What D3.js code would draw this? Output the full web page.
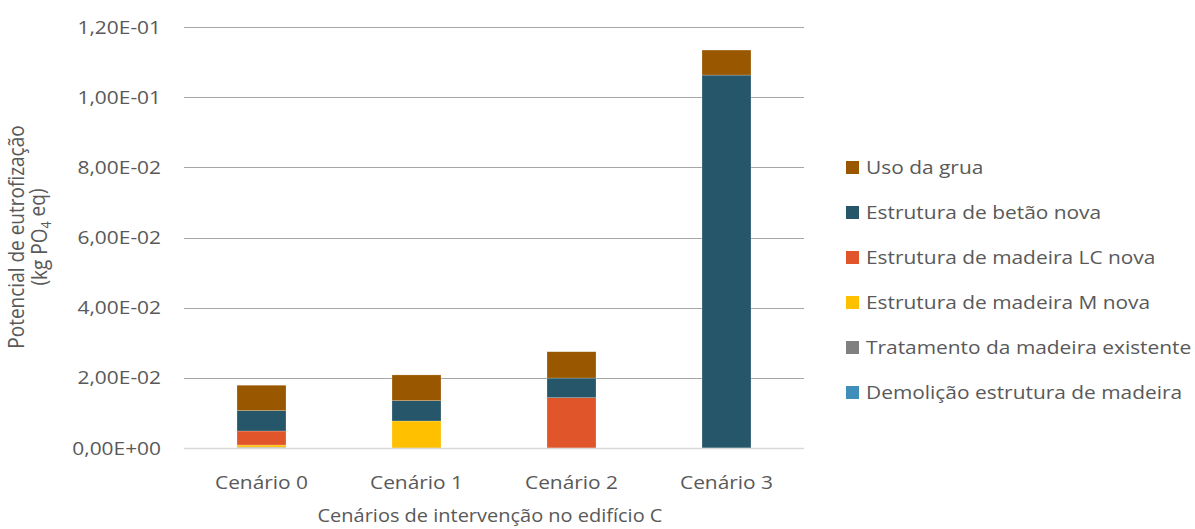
<!DOCTYPE html>
<html><head><meta charset="utf-8">
<script src="https://cdn.jsdelivr.net/npm/d3@7"></script>
<style>body{margin:0;background:#fff}svg{display:block}text{font-family:"Open Sans",sans-serif;fill:#595959;font-size:19px}</style>
</head><body><svg id="c" width="1195" height="529"></svg>
<script>
const categories = ["Cenário 0","Cenário 1","Cenário 2","Cenário 3"];
const seriesNames = ["Demolição estrutura de madeira","Tratamento da madeira existente","Estrutura de madeira M nova","Estrutura de madeira LC nova","Estrutura de betão nova","Uso da grua"];
const seriesColors = ["#3F8FBA","#808080","#FFC000","#E05529","#255669","#995800"];
const demolicao  = [0.00005, 0, 0, 0];
const tratamento = [0.0002, 0, 0, 0];
const madeiraM   = [0.0006, 0.0077, 0, 0];
const madeiraLC  = [0.0040, 0, 0.01434, 0];
const betao      = [0.0058, 0.0058, 0.0056, 0.1063];
const grua       = [0.00724, 0.00733, 0.0075, 0.00713];
const yTicks = [0, 0.02, 0.04, 0.06, 0.08, 0.10, 0.12];

const SX = 1.1; // horizontal text stretch seen in the reference

const seriesValues = [demolicao, tratamento, madeiraM, madeiraLC, betao, grua];
const rows = categories.map((c,i)=>{const r={cat:c}; seriesNames.forEach((s,j)=>r[s]=seriesValues[j][i]); return r;});
const stack = d3.stack().keys(seriesNames)(rows);

const svg = d3.select("#c");
const x = d3.scaleBand().domain(categories).range([184,804]).paddingInner(0.684).paddingOuter(0.342);
const y = d3.scaleLinear().domain([0,0.12]).range([448,27]);

function fmt(v){
  if (v===0) return "0,00E+00";
  const e = Math.floor(Math.log10(v)+1e-9);
  const m = v/Math.pow(10,e);
  const es = (e<0?"-":"+") + String(Math.abs(e)).padStart(2,"0");
  return m.toFixed(2).replace(".",",")+"E"+es;
}

// gridlines
svg.append("g").selectAll("line").data(yTicks.slice(1)).join("line")
  .attr("x1",184).attr("x2",804).attr("y1",d=>Math.round(y(d))+0.5).attr("y2",d=>Math.round(y(d))+0.5)
  .attr("stroke","#a6a6a6").attr("stroke-width",1);

// y tick labels
svg.append("g").selectAll("text").data(yTicks).join("text")
  .attr("transform",d=>`translate(161,${y(d)}) scale(${SX},1)`)
  .attr("dy","0.35em").attr("text-anchor","end").text(fmt);

// bars
svg.append("g").selectAll("g").data(stack).join("g")
  .attr("fill",(d,i)=>seriesColors[i])
  .selectAll("rect").data(d=>d).join("rect")
  .attr("x",d=>x(d.data.cat)).attr("width",x.bandwidth())
  .attr("y",d=>y(d[1])).attr("height",d=>Math.max(0,y(d[0])-y(d[1])))
  .attr("stroke","#ffffff").attr("stroke-opacity",0.35).attr("stroke-width",0.6);

// x axis line
svg.append("line").attr("x1",184).attr("x2",804).attr("y1",448.5).attr("y2",448.5)
  .attr("stroke","#d9d9d9").attr("stroke-width",1.5);

// x labels
svg.append("g").selectAll("text").data(categories).join("text")
  .attr("transform",d=>`translate(${x(d)+x.bandwidth()/2},482) scale(${SX},1)`)
  .attr("dy","0.35em").attr("text-anchor","middle").text(d=>d);

svg.append("text").attr("transform",`translate(490,516) scale(1.08,1)`)
  .attr("dy","0.35em").attr("text-anchor","middle").style("font-size","18.5px")
  .text("Cenários de intervenção no edifício C");

// y title
svg.append("text").attr("transform",`translate(17,237) scale(${SX},1) rotate(-90)`)
  .attr("text-anchor","middle").attr("dy","0.35em").text("Potencial de eutrofização");
const l2 = svg.append("text").attr("transform",`translate(40,237) scale(${SX},1) rotate(-90)`).attr("text-anchor","middle");
l2.append("tspan").attr("dy","0.35em").text("(kg PO");
l2.append("tspan").attr("dy","0.3em").style("font-size","12.5px").text("4");
l2.append("tspan").attr("dy","-0.3em").text(" eq)");

// legend (top = last series)
const legOrder = seriesNames.map((s,i)=>i).reverse();
const lg = svg.append("g").selectAll("g").data(legOrder).join("g")
  .attr("transform",(d,k)=>`translate(846,${167.5 + k*45})`);
lg.append("rect").attr("x",0).attr("y",-6.5).attr("width",13).attr("height",13).attr("fill",d=>seriesColors[d]);
lg.append("text").attr("transform",`translate(20,0) scale(${SX},1)`).attr("dy","0.35em").text(d=>seriesNames[d]);
</script></body></html>
